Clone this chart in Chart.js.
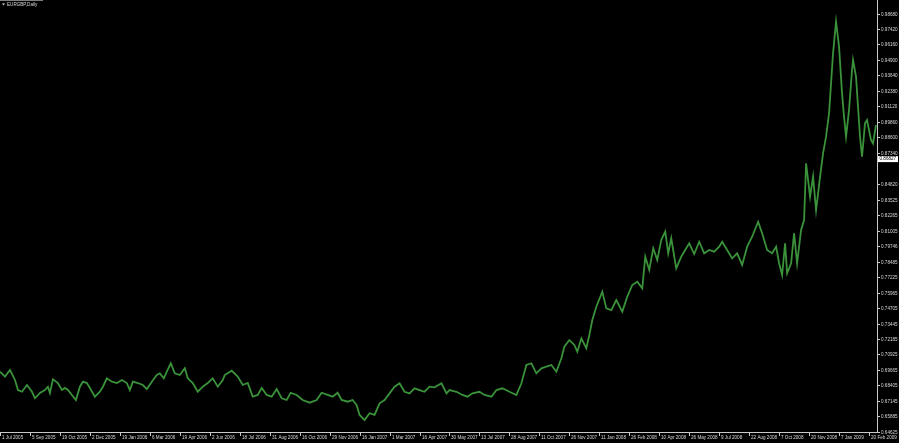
<!DOCTYPE html>
<html>
<head>
<meta charset="utf-8">
<script src="https://cdn.jsdelivr.net/npm/chart.js@4/dist/chart.umd.min.js"></script>
<style>
html,body{margin:0;padding:0;background:#000;overflow:hidden;}
canvas{display:block;}
</style>
</head>
<body>
<canvas id="c" width="899" height="443"></canvas>
<script>
// ---- data (bar index, EURGBP daily close) ----
const chartTitle = "EURGBP,Daily";
const bars = [
0,5,10,15,18,22,27,32,35,40,45,48,50,53,58,62,65,68,72,76,80,83,87,90,95,100,103,107,112,117,122,127,130,133,138,143,147,152,157,160,164,167,171,175,180,185,188,193,198,203,208,213,218,223,
225,232,238,243,248,253,258,262,267,272,277,282,287,291,297,303,310,317,322,328,333,338,342,348,353,357,360,365,370,375,380,385,390,395,400,405,410,415,420,425,430,435,442,447,450,
457,463,468,473,480,485,492,497,503,510,517,522,527,532,537,542,547,552,557,562,565,570,575,578,582,587,590,593,597,603,607,612,617,623,628,633,638,643,646,650,654,658,662,666,669,672,677,682,687,690,
695,700,705,710,715,720,723,728,733,738,743,748,753,759,763,768,773,777,780,783,786,788,792,795,798,802,805,807,811,814,817,821,824,827,830,832,834,837,840,843,845,847,850,853,854,857,859,861,863,866,868,872,874,877
];
const closes = [
0.6952,0.6912,0.6966,0.6885,0.6803,0.6789,0.6844,0.6789,0.6736,0.6779,0.6803,0.6830,0.6779,0.6890,0.6860,0.6803,0.6820,0.6803,0.6763,0.6722,0.6830,0.6871,0.6860,0.6820,0.6749,0.6789,0.6830,0.6898,0.6871,0.6860,0.6885,0.6860,0.6803,0.6871,0.6860,0.6844,0.6811,0.6871,0.6925,0.6939,0.6898,0.6952,0.7021,0.6939,0.6925,0.6980,0.6898,0.6860,0.6789,0.6830,0.6860,0.6898,0.6830,0.6885,
0.6925,0.6960,0.6912,0.6844,0.6860,0.6749,0.6763,0.6820,0.6763,0.6749,0.6811,0.6736,0.6722,0.6781,0.6763,0.6722,0.6700,0.6722,0.6781,0.6763,0.6749,0.6781,0.6722,0.6708,0.6722,0.6681,0.6600,0.6559,0.6614,0.6600,0.6695,0.6722,0.6776,0.6830,0.6858,0.6789,0.6776,0.6817,0.6803,0.6789,0.6830,0.6825,0.6858,0.6776,0.6803,
0.6789,0.6763,0.6749,0.6776,0.6789,0.6763,0.6749,0.6803,0.6817,0.6789,0.6763,0.6858,0.7007,0.7021,0.6939,0.6980,0.6993,0.7007,0.6952,0.7061,0.7156,0.7210,0.7170,0.7115,0.7224,0.7143,0.7251,0.7373,0.7481,0.7604,0.7468,0.7454,0.7536,0.7441,0.7563,0.7658,0.7685,0.7631,0.7888,0.7780,0.7957,0.7861,0.8024,0.8092,0.7916,0.8038,0.7794,0.7888,0.7957,0.7997,
0.7910,0.8010,0.7916,0.7943,0.7929,0.7970,0.8010,0.7943,0.7875,0.7916,0.7821,0.7970,0.8051,0.8173,0.8079,0.7943,0.7916,0.7970,0.7835,0.7739,0.7997,0.7753,0.7835,0.8079,0.7835,0.8106,0.8187,0.8649,0.8377,0.8540,0.8268,0.8540,0.8730,0.8865,0.9056,0.9300,0.9544,0.9801,0.9598,0.9218,0.9028,0.8865,0.9082,0.9408,0.9490,0.9354,0.9109,0.8865,0.8702,0.8974,0.9001,0.8838,0.8811,0.8960
];
const dateLabels = ["1 Jul 2005","5 Sep 2005","19 Oct 2005","2 Dec 2005","19 Jan 2006","6 Mar 2006","19 Apr 2006","2 Jun 2006","18 Jul 2006","31 Aug 2006",
"16 Oct 2006","29 Nov 2006","16 Jan 2007","1 Mar 2007","16 Apr 2007","30 May 2007","13 Jul 2007","28 Aug 2007","11 Oct 2007","26 Nov 2007",
"11 Jan 2008","26 Feb 2008","10 Apr 2008","26 May 2008","9 Jul 2008","22 Aug 2008","7 Oct 2008","20 Nov 2008","7 Jan 2009","20 Feb 2009"];
const dateStep = 30; // bars between date labels
const priceLabels = ["0.98680","0.97420","0.96160","0.94900","0.93640","0.92380","0.91120","0.89860","0.88600","0.87340",
"0.84820","0.83525","0.82265","0.81005","0.79746","0.78485","0.77225","0.75965","0.74705","0.73445","0.72185","0.70925",
"0.69665","0.68405","0.67145","0.65885","0.64625"];
const currentPrice = "0.86827";
const yMin = 0.64614, yMax = 0.99779, xMax = 878;

const FONT = "4.6px 'Liberation Sans', Arial, sans-serif";
const TXT = "#d8d8d8";

const mt4Axes = {
  id: 'mt4Axes',
  afterDraw(chart) {
    const ctx = chart.ctx, a = chart.chartArea;
    const xs = chart.scales.x, ys = chart.scales.y;
    ctx.save();
    ctx.strokeStyle = "#c8c8c8"; ctx.lineWidth = 1;
    ctx.beginPath();
    ctx.moveTo(Math.round(a.right) + 0.5, 0);
    ctx.lineTo(Math.round(a.right) + 0.5, Math.round(a.bottom) + 0.5);
    ctx.moveTo(0, Math.round(a.bottom) + 0.5);
    ctx.lineTo(Math.round(a.right) + 0.5, Math.round(a.bottom) + 0.5);
    ctx.stroke();
    ctx.font = FONT; ctx.fillStyle = TXT;
    ctx.textAlign = "left"; ctx.textBaseline = "middle";
    priceLabels.forEach(l => {
      const y = Math.round(ys.getPixelForValue(parseFloat(l))) + 0.5;
      ctx.beginPath(); ctx.moveTo(a.right, y); ctx.lineTo(a.right + 3, y); ctx.stroke();
      ctx.fillText(l, a.right + 4, y);
    });
    dateLabels.forEach((l, i) => {
      const x = Math.round(xs.getPixelForValue(i * dateStep)) + 0.5;
      ctx.beginPath(); ctx.moveTo(x, a.bottom); ctx.lineTo(x, a.bottom + 4); ctx.stroke();
      ctx.fillText(l, x + 1.5, a.bottom + 5.5);
    });
    const py = ys.getPixelForValue(parseFloat(currentPrice));
    ctx.fillStyle = "#ffffff";
    ctx.fillRect(a.right + 1, py - 3, 20, 6);
    ctx.fillStyle = "#000000";
    ctx.fillText(currentPrice, a.right + 2.5, py);
    ctx.fillStyle = "#808080";
    ctx.fillRect(0, 0, 43, 1);
    ctx.fillStyle = TXT;
    ctx.beginPath(); ctx.moveTo(2, 3.5); ctx.lineTo(5, 3.5); ctx.lineTo(3.5, 5.5); ctx.closePath(); ctx.fill();
    ctx.fillText(chartTitle, 7, 4.5);
    ctx.restore();
  }
};

new Chart(document.getElementById('c'), {
  type: 'line',
  data: {
    datasets: [{
      data: bars.map((b, i) => ({x: b, y: closes[i]})),
      borderColor: '#3a923a',
      borderWidth: 1.8,
      pointRadius: 0,
      tension: 0,
      fill: false
    }]
  },
  options: {
    responsive: false,
    animation: false,
    devicePixelRatio: 1,
    layout: {padding: {left: 0, top: 0, right: 22, bottom: 11}},
    plugins: {legend: {display: false}, tooltip: {enabled: false}},
    scales: {
      x: {type: 'linear', min: 0, max: xMax, display: false},
      y: {type: 'linear', min: yMin, max: yMax, display: false}
    }
  },
  plugins: [{id: 'bg', beforeDraw(c) { c.ctx.save(); c.ctx.fillStyle = '#000'; c.ctx.fillRect(0, 0, c.width, c.height); c.ctx.restore(); }}, mt4Axes]
});
</script>
</body>
</html>
